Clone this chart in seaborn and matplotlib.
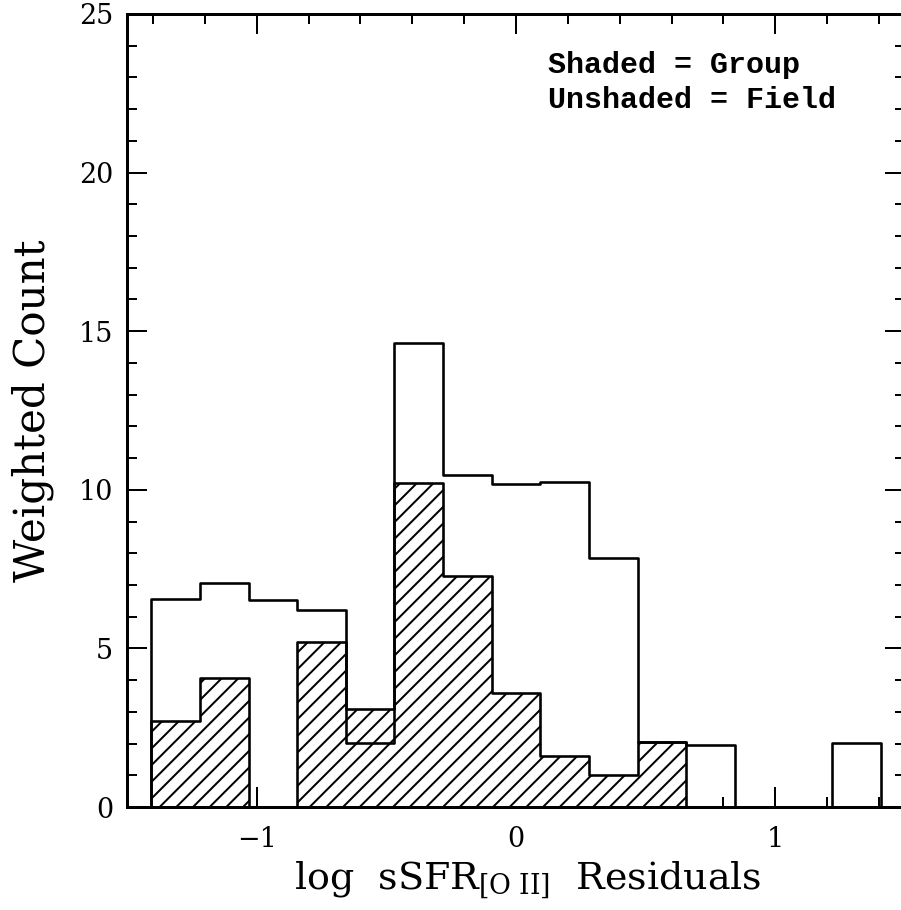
import numpy as np
import pandas as pd
import seaborn as sns
import matplotlib
matplotlib.use("Agg")
import matplotlib.pyplot as plt
from matplotlib.ticker import MultipleLocator

# ---- data ----
bin_lo, bin_hi, n_bins = -1.40625, 1.40625, 15
field_counts = [6.56, 7.05, 6.52, 6.21, 2.02, 14.62, 10.47, 10.18, 10.26, 7.86, 2.05, 1.95, 0.0, 0.0, 2.03]
group_counts = [2.71, 4.06, 0.0, 5.19, 3.09, 10.22, 7.29, 3.59, 1.61, 1.01, 2.05, 0.0, 0.0, 0.0, 0.0]
x_ticks = [-1, 0, 1]
y_ticks = [0, 5, 10, 15, 20, 25]
note_lines = ["Shaded = Group", "Unshaded = Field"]

edges = [float(e) for e in np.linspace(bin_lo, bin_hi, n_bins + 1)]
centers = [0.5 * (edges[i] + edges[i + 1]) for i in range(n_bins)]
df = pd.DataFrame({"x": centers, "field": field_counts, "group": group_counts})

DPI = 100
PX = 72.0 / DPI  # points per pixel

sns.set_theme(style="ticks")
plt.rcParams["font.family"] = ["DejaVu Serif", "DejaVu Sans"]
plt.rcParams["mathtext.fontset"] = "dejavuserif"
plt.rcParams["hatch.linewidth"] = 2.0 * PX
plt.rcParams["hatch.color"] = "black"
for k in ["text.color", "axes.labelcolor", "xtick.color", "ytick.color", "axes.edgecolor"]:
    plt.rcParams[k] = "black"

fig = plt.figure(figsize=(901 / DPI, 910 / DPI), dpi=DPI)
W, H = 901.0, 910.0
ax = fig.add_axes([127 / W, (H - 807) / H, (905 - 127) / W, (807 - 14) / H])

sns.histplot(data=df, x="x", weights="group", bins=edges, element="step",
             fill=True, facecolor="white", edgecolor="black", hatch="//",
             linewidth=2.6 * PX, alpha=1, ax=ax, zorder=2)
n_before = len(ax.collections)
sns.histplot(data=df, x="x", weights="field", bins=edges, element="step",
             fill=True, color="black", facecolor="white", edgecolor="black",
             linewidth=2.6 * PX, alpha=1, ax=ax, zorder=3)
for coll in ax.collections[n_before:]:
    coll.set_facecolor("none")
    coll.set_edgecolor("black")

ax.set_xlim(-1.5, 1.5)
ax.set_ylim(0, 25)
ax.set_xticks(x_ticks)
ax.set_yticks(y_ticks)
ax.set_xticklabels([("\u2212" + str(abs(v))) if v < 0 else str(v) for v in x_ticks])
ax.xaxis.set_minor_locator(MultipleLocator(0.2))
ax.yaxis.set_minor_locator(MultipleLocator(1))
ax.tick_params(which="both", direction="in", top=True, right=True, width=2 * PX,
               colors="black", labelcolor="black")
ax.tick_params(which="major", length=20 * PX, labelsize=27 * PX)
ax.tick_params(which="minor", length=10 * PX)
ax.tick_params(axis="x", which="major", pad=19 * PX)
ax.tick_params(axis="y", which="major", pad=14 * PX)
for s in ax.spines.values():
    s.set_linewidth(3 * PX)
    s.set_color("black")
    s.set_visible(True)

ax.set_xlabel(r"log  sSFR$_{\mathrm{[O\ II]}}$  Residuals", fontsize=38 * PX, color="black")
ax.set_ylabel("Weighted Count", fontsize=42 * PX, color="black")
ax.xaxis.set_label_coords(0.515, -0.066)
ax.yaxis.set_label_coords(-0.094, 0.5)

mono = ["Liberation Mono", "DejaVu Sans Mono"]
ax.text(0.123, 23.14, note_lines[0], family=mono, color="black",
        fontsize=30 * PX, fontweight="bold", va="baseline", ha="left")
ax.text(0.123, 22.04, note_lines[1], family=mono, color="black",
        fontsize=30 * PX, fontweight="bold", va="baseline", ha="left")

fig.savefig("out.png", dpi=DPI)
